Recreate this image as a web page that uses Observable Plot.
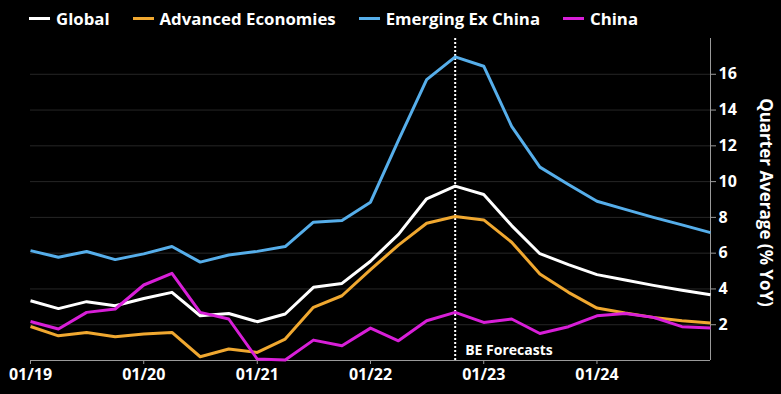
<!DOCTYPE html>
<html><head><meta charset="utf-8">
<script src="https://cdn.jsdelivr.net/npm/d3@7"></script>
<script src="https://cdn.jsdelivr.net/npm/@observablehq/plot@0.6"></script>
<style>
html,body{margin:0;padding:0;background:#000;}
body{width:781px;height:394px;overflow:hidden;font-family:"Open Sans",sans-serif;color:#fff;}
#legend{height:36px;display:flex;align-items:center;padding-left:29px;box-sizing:border-box;font-weight:700;font-size:16.8px;}
.item{display:flex;align-items:center;margin-right:23px;}
.sw{width:21px;height:3px;margin-right:6px;}
#chart svg{display:block;}
</style></head>
<body>
<div id="legend"></div>
<div id="chart"></div>
<script>
const quarters = ["2019-01","2019-04","2019-07","2019-10","2020-01","2020-04","2020-07","2020-10",
  "2021-01","2021-04","2021-07","2021-10","2022-01","2022-04","2022-07","2022-10",
  "2023-01","2023-04","2023-07","2023-10","2024-01","2024-04","2024-07","2024-10","2025-01"];
const seriesNames = ["Global","Advanced Economies","Emerging Ex China","China"];
const seriesColors = ["#ffffff","#F0A830","#56AEEA","#D81FD8"];
const globalVals   = [3.34,2.90,3.29,3.06,3.47,3.81,2.50,2.63,2.17,2.60,4.09,4.31,5.55,7.05,9.04,9.75,9.28,7.54,5.97,5.36,4.80,4.50,4.20,3.93,3.68];
const advancedVals = [1.90,1.38,1.57,1.33,1.48,1.57,0.21,0.64,0.45,1.20,2.97,3.62,5.08,6.45,7.67,8.05,7.86,6.61,4.84,3.81,2.93,2.65,2.41,2.22,2.09];
const emergingVals = [6.14,5.77,6.09,5.64,5.96,6.37,5.50,5.90,6.10,6.37,7.73,7.82,8.85,12.30,15.70,16.97,16.45,13.09,10.81,9.84,8.90,8.45,8.00,7.58,7.15];
const chinaVals    = [2.18,1.76,2.69,2.88,4.22,4.87,2.69,2.32,0.08,0.03,1.14,0.82,1.81,1.10,2.22,2.69,2.13,2.32,1.51,1.89,2.50,2.63,2.41,1.89,1.81];
const yTicks = [2,4,6,8,10,12,14,16];
const xTickYears = ["2019-01","2020-01","2021-01","2022-01","2023-01","2024-01"];
const forecastStart = "2022-10";
const forecastLabel = "BE Forecasts";
const yLabel = "Quarter Average (% YoY)";

const parse = s => new Date(s + "-01T00:00:00Z");
const valueSets = [globalVals, advancedVals, emergingVals, chinaVals];
const data = [];
seriesNames.forEach((name, i) => {
  quarters.forEach((q, j) => data.push({series: name, date: parse(q), value: valueSets[i][j]}));
});

// legend
const legend = document.getElementById("legend");
seriesNames.forEach((n, i) => {
  const it = document.createElement("div"); it.className = "item";
  const sw = document.createElement("div"); sw.className = "sw"; sw.style.background = seriesColors[i];
  const tx = document.createElement("span"); tx.textContent = n;
  it.appendChild(sw); it.appendChild(tx); legend.appendChild(it);
});

const xStart = parse(quarters[0]), xEnd = parse(quarters[quarters.length - 1]);
const fDate = parse(forecastStart);

const chart = Plot.plot({
  width: 781,
  height: 358,
  marginTop: 2,
  marginBottom: 34,
  marginLeft: 30,
  marginRight: 71,
  style: {background: "#000", color: "#fff", fontFamily: "'Open Sans', sans-serif", overflow: "visible"},
  x: {type: "utc", domain: [xStart, xEnd]},
  y: {domain: [0, 18]},
  color: {domain: seriesNames, range: seriesColors},
  marks: [
    Plot.gridY(yTicks, {stroke: "#262626", strokeOpacity: 1, strokeWidth: 1}),
    Plot.ruleY([0], {stroke: "#9a9a9a", strokeWidth: 1}),
    Plot.ruleX([xEnd], {stroke: "#9a9a9a", strokeWidth: 1}),
    Plot.axisX({ticks: xTickYears.map(parse), tickFormat: d3.utcFormat("%m/%y"), tickSize: 4, tickPadding: 4,
      stroke: "#9a9a9a", fill: "#fff", fontSize: 16, fontWeight: 700, label: null}),
    Plot.axisY({anchor: "right", ticks: yTicks, tickSize: 5, tickPadding: 3, stroke: "#9a9a9a", fill: "#fff",
      fontSize: 16, fontWeight: 700, label: null}),
    Plot.text([yLabel], {frameAnchor: "right", rotate: 90, textAnchor: "middle", lineAnchor: "middle",
      dx: 55, dy: 3, fill: "#fff", fontSize: 17, fontWeight: 700, text: d => d}),
    Plot.ruleX([fDate], {stroke: "#fff", strokeWidth: 2, strokeDasharray: "2,2"}),
    Plot.text([forecastLabel], {x: fDate, frameAnchor: "bottom", textAnchor: "start", lineAnchor: "bottom",
      dx: 10, dy: -6, fill: "#fff", fontSize: 14, fontWeight: 700, text: d => d}),
    Plot.line(data, {x: "date", y: "value", z: "series", stroke: "series", strokeWidth: 3, strokeLinejoin: "round", strokeLinecap: "butt"})
  ]
});
document.getElementById("chart").appendChild(chart);
</script>
</body></html>
